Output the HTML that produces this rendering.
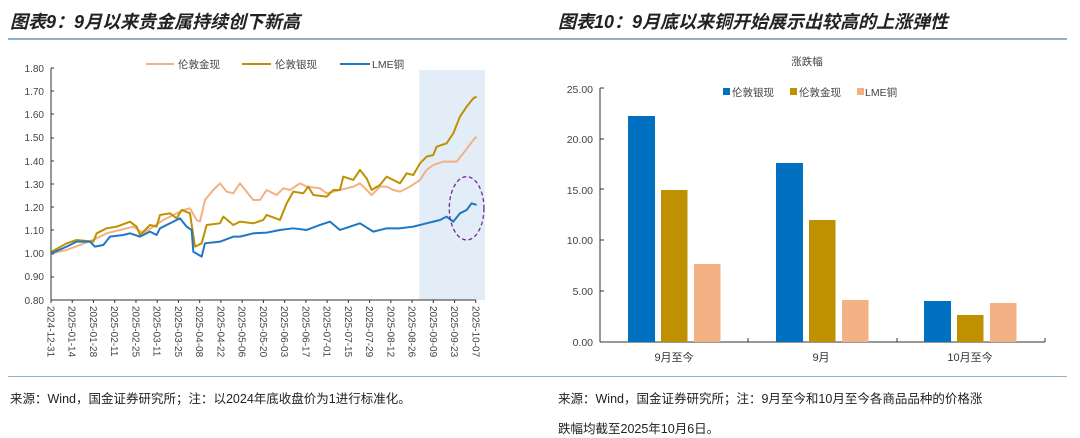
<!DOCTYPE html>
<html><head><meta charset="utf-8">
<style>
html,body{margin:0;padding:0;background:#fff;}
body{width:1080px;height:438px;overflow:hidden;position:relative;font-family:"Liberation Sans","Noto Sans CJK SC",sans-serif;}
.t{position:absolute;top:8px;font-size:18px;font-weight:bold;font-style:italic;color:#222;font-family:"Liberation Sans","Noto Sans CJK SC",sans-serif;}
.s{position:absolute;font-size:12.5px;color:#222;}
.hl{position:absolute;left:8px;width:1059px;height:2px;background:#8fb3cc;}
</style></head><body>
<div class="t" style="left:10px;">图表9：9月以来贵金属持续创下新高</div>
<div class="t" style="left:558px;">图表10：9月底以来铜开始展示出较高的上涨弹性</div>
<div class="hl" style="top:38px;"></div>
<div class="hl" style="top:376px;height:1px;"></div>
<div class="s" style="left:10px;top:388px;">来源：Wind，国金证券研究所；注：以2024年底收盘价为1进行标准化。</div>
<div class="s" style="left:558px;top:388px;">来源：Wind，国金证券研究所；注：9月至今和10月至今各商品品种的价格涨</div>
<div class="s" style="left:558px;top:418px;">跌幅均截至2025年10月6日。</div>
<svg width="1080" height="438" style="position:absolute;left:0;top:0" font-family="Liberation Sans,Noto Sans CJK SC,sans-serif">
<rect x="419.3" y="70" width="65.7" height="230" fill="#e3edf7"/>
<g font-size="10" fill="#444" text-anchor="end">
<text x="44" y="72">1.80</text><text x="44" y="95">1.70</text><text x="44" y="118">1.60</text><text x="44" y="141">1.50</text><text x="44" y="165">1.40</text><text x="44" y="188">1.30</text><text x="44" y="211">1.20</text><text x="44" y="234">1.10</text><text x="44" y="257">1.00</text><text x="44" y="280">0.90</text><text x="44" y="304">0.80</text>
</g>
<g stroke="#333" stroke-width="1">
<line x1="51" y1="68" x2="51" y2="300"/><line x1="51" y1="300" x2="476" y2="300"/>
<line x1="51" y1="68" x2="54" y2="68"/><line x1="51" y1="91" x2="54" y2="91"/><line x1="51" y1="114" x2="54" y2="114"/><line x1="51" y1="138" x2="54" y2="138"/><line x1="51" y1="161" x2="54" y2="161"/><line x1="51" y1="184" x2="54" y2="184"/><line x1="51" y1="207" x2="54" y2="207"/><line x1="51" y1="230" x2="54" y2="230"/><line x1="51" y1="254" x2="54" y2="254"/><line x1="51" y1="277" x2="54" y2="277"/>
</g>
<g id="xt" font-size="10" fill="#444"></g>
<g transform="translate(0,40) scale(0.3333)" fill="none" stroke-width="6" stroke-linejoin="round">
<polyline stroke="#f4b183" points="155,640 200,630 240,615 280,600 320,580 360,570 400,560 430,580 460,560 490,540 520,525 550,510 570,505 590,540 600,545 615,480 640,450 660,430 680,455 700,460 720,430 760,480 780,480 800,450 830,465 850,445 870,450 900,430 920,440 960,445 980,460 1000,455 1040,445 1060,440 1080,430 1100,450 1115,465 1140,440 1160,440 1180,450 1200,455 1230,440 1260,420 1280,390 1300,375 1330,365 1370,365 1390,340 1420,300 1430,290"/>
<polyline stroke="#bf9000" points="155,635 200,610 230,600 280,605 290,580 320,565 350,560 390,545 410,560 420,585 450,555 470,560 480,525 510,520 530,535 545,510 570,520 585,620 605,610 620,555 660,550 670,530 700,555 720,545 760,550 790,540 800,525 840,540 860,490 880,455 910,460 925,440 940,465 980,470 1000,450 1020,450 1030,410 1060,420 1080,390 1100,415 1115,450 1140,435 1160,410 1180,420 1200,430 1220,400 1240,405 1260,370 1280,350 1300,345 1310,320 1340,310 1360,280 1380,230 1400,200 1420,175 1430,170"/>
<polyline stroke="#1f77c4" points="155,640 200,620 230,605 270,605 285,620 310,615 330,590 370,585 390,580 420,590 450,575 470,585 480,565 520,545 540,535 560,560 575,570 580,635 605,650 615,610 660,605 700,590 720,590 760,580 800,578 840,570 880,565 920,570 960,555 990,545 1020,570 1080,550 1120,575 1160,565 1200,565 1240,560 1280,550 1320,540 1340,530 1360,545 1380,520 1400,510 1415,490 1430,495"/>
<ellipse cx="1400" cy="505" rx="52" ry="95" stroke="#7030a0" stroke-width="4" stroke-dasharray="12,8"/>
</g>
<g font-size="10.5" fill="#444">
<line x1="146" y1="64" x2="174" y2="64" stroke="#f4b183" stroke-width="2"/><text x="178" y="68">伦敦金现</text>
<line x1="242" y1="64" x2="271" y2="64" stroke="#bf9000" stroke-width="2"/><text x="275" y="68">伦敦银现</text>
<line x1="340" y1="64" x2="370" y2="64" stroke="#1f77c4" stroke-width="2"/><text x="372" y="68">LME铜</text>
</g>
<!-- right chart -->
<text x="807" y="65" font-size="10.5" fill="#444" text-anchor="middle">涨跌幅</text>
<g font-size="10.5" fill="#444">
<rect x="723" y="88" width="7" height="7" fill="#0070c0"/><text x="732" y="96">伦敦银现</text>
<rect x="790" y="88" width="7" height="7" fill="#bf9000"/><text x="799" y="96">伦敦金现</text>
<rect x="857" y="88" width="7" height="7" fill="#f4b183"/><text x="865" y="96">LME铜</text>
</g>
<g font-size="10.5" fill="#444" text-anchor="end">
<text x="593" y="93">25.00</text><text x="593" y="143">20.00</text><text x="593" y="194">15.00</text><text x="593" y="244">10.00</text><text x="593" y="295">5.00</text><text x="593" y="346">0.00</text>
</g>
<g stroke="#333" stroke-width="1">
<line x1="600" y1="88" x2="600" y2="342"/><line x1="600" y1="342" x2="1045" y2="342"/>
<line x1="600" y1="88" x2="604" y2="88"/><line x1="600" y1="139" x2="604" y2="139"/><line x1="600" y1="189" x2="604" y2="189"/><line x1="600" y1="240" x2="604" y2="240"/><line x1="600" y1="291" x2="604" y2="291"/>
<line x1="748" y1="342" x2="748" y2="338"/><line x1="897" y1="342" x2="897" y2="338"/><line x1="1045" y1="342" x2="1045" y2="338"/>
</g>
<rect x="628" y="116" width="27" height="226" fill="#0070c0"/>
<rect x="661" y="190" width="26.5" height="152" fill="#bf9000"/>
<rect x="694" y="264" width="26.5" height="78" fill="#f4b183"/>
<rect x="776" y="163" width="27" height="179" fill="#0070c0"/>
<rect x="809" y="220" width="26.5" height="122" fill="#bf9000"/>
<rect x="842" y="300" width="26.5" height="42" fill="#f4b183"/>
<rect x="924" y="301" width="27" height="41" fill="#0070c0"/>
<rect x="957" y="315" width="26.5" height="27" fill="#bf9000"/>
<rect x="990" y="303" width="26.5" height="39" fill="#f4b183"/>
<g font-size="11" fill="#333" text-anchor="middle">
<text x="674" y="361">9月至今</text><text x="821" y="361">9月</text><text x="970" y="361">10月至今</text>
</g>
</svg>
<script>
var d=["2024-12-31","2025-01-14","2025-01-28","2025-02-11","2025-02-25","2025-03-11","2025-03-25","2025-04-08","2025-04-22","2025-05-06","2025-05-20","2025-06-03","2025-06-17","2025-07-01","2025-07-15","2025-07-29","2025-08-12","2025-08-26","2025-09-09","2025-09-23","2025-10-07"];
var g=document.getElementById('xt'),s='';
for(var i=0;i<d.length;i++){var x=51+i*21.24;
s+='<line x1="'+x+'" y1="300" x2="'+x+'" y2="303" stroke="#333"/>';
s+='<text transform="translate('+(x-3.5)+',306) rotate(90)">'+d[i]+'</text>';}
g.innerHTML=s;
</script>
</body></html>
